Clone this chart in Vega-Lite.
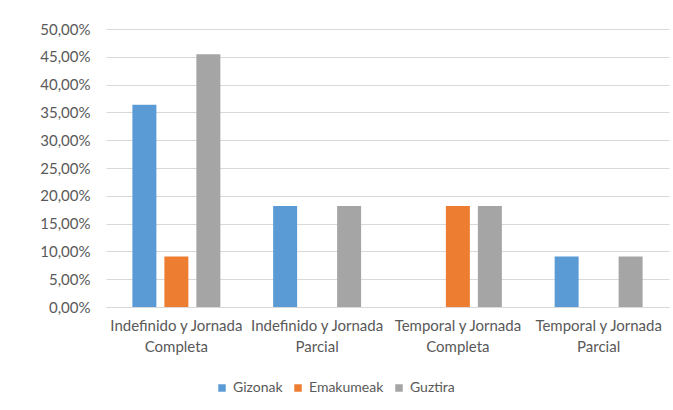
{
  "$schema": "https://vega.github.io/schema/vega-lite/v6.json",
  "width": 563,
  "height": 278,
  "autosize": {"type": "none"},
  "padding": {"left": 106, "top": 29, "right": 4, "bottom": 103},
  "background": "white",
  "config": {
    "locale": {"number": {"decimal": ",", "thousands": ".", "grouping": [3], "currency": ["", " €"]}},
    "view": {"stroke": null},
    "font": "Lato",
    "axis": {"labelFont": "Lato", "labelColor": "#595959", "labelFontSize": 15, "titleFont": "Lato"},
    "legend": {"labelFont": "Lato", "labelColor": "#595959", "labelFontSize": 14}
  },
  "data": {
    "values": [
      {"categoria": "Indefinido y Jornada Completa", "serie": "Gizonak", "valor": 0.3636},
      {"categoria": "Indefinido y Jornada Completa", "serie": "Emakumeak", "valor": 0.0909},
      {"categoria": "Indefinido y Jornada Completa", "serie": "Guztira", "valor": 0.4545},
      {"categoria": "Indefinido y Jornada Parcial", "serie": "Gizonak", "valor": 0.1818},
      {"categoria": "Indefinido y Jornada Parcial", "serie": "Emakumeak", "valor": 0},
      {"categoria": "Indefinido y Jornada Parcial", "serie": "Guztira", "valor": 0.1818},
      {"categoria": "Temporal y Jornada Completa", "serie": "Gizonak", "valor": 0},
      {"categoria": "Temporal y Jornada Completa", "serie": "Emakumeak", "valor": 0.1818},
      {"categoria": "Temporal y Jornada Completa", "serie": "Guztira", "valor": 0.1818},
      {"categoria": "Temporal y Jornada Parcial", "serie": "Gizonak", "valor": 0.0909},
      {"categoria": "Temporal y Jornada Parcial", "serie": "Emakumeak", "valor": 0},
      {"categoria": "Temporal y Jornada Parcial", "serie": "Guztira", "valor": 0.0909}
    ]
  },
  "mark": {"type": "bar"},
  "encoding": {
    "x": {
      "field": "categoria",
      "type": "nominal",
      "sort": null,
      "scale": {"paddingInner": 0, "paddingOuter": 0},
      "axis": {
        "title": null,
        "labelAngle": 0,
        "ticks": false,
        "domain": true,
        "domainColor": "#D9D9D9",
        "labelPadding": 11,
        "labelLineHeight": 21,
        "labelOverlap": false,
        "labelExpr": "[slice(datum.label, 0, indexof(datum.label, 'Jornada') + 7), slice(datum.label, indexof(datum.label, 'Jornada') + 8)]"
      }
    },
    "xOffset": {
      "field": "serie",
      "type": "nominal",
      "sort": ["Gizonak", "Emakumeak", "Guztira"],
      "scale": {"paddingInner": 0.25, "paddingOuter": 0.825}
    },
    "y": {
      "field": "valor",
      "type": "quantitative",
      "scale": {"domain": [0, 0.5], "nice": false},
      "axis": {
        "title": null,
        "format": ".2%",
        "values": [0, 0.05, 0.1, 0.15, 0.2, 0.25, 0.3, 0.35, 0.4, 0.45, 0.5],
        "labelOverlap": false,
        "domain": false,
        "ticks": false,
        "labelPadding": 16,
        "gridColor": "#D9D9D9"
      }
    },
    "color": {
      "field": "serie",
      "type": "nominal",
      "sort": ["Gizonak", "Emakumeak", "Guztira"],
      "scale": {"domain": ["Gizonak", "Emakumeak", "Guztira"], "range": ["#5B9BD5", "#ED7D31", "#A5A5A5"]},
      "legend": {
        "title": null,
        "orient": "none",
        "direction": "horizontal",
        "legendX": 109,
        "legendY": 352,
        "symbolType": "square",
        "symbolSize": 56,
        "symbolStrokeWidth": 0,
        "columnPadding": 8,
        "labelOffset": 4
      }
    }
  }
}
